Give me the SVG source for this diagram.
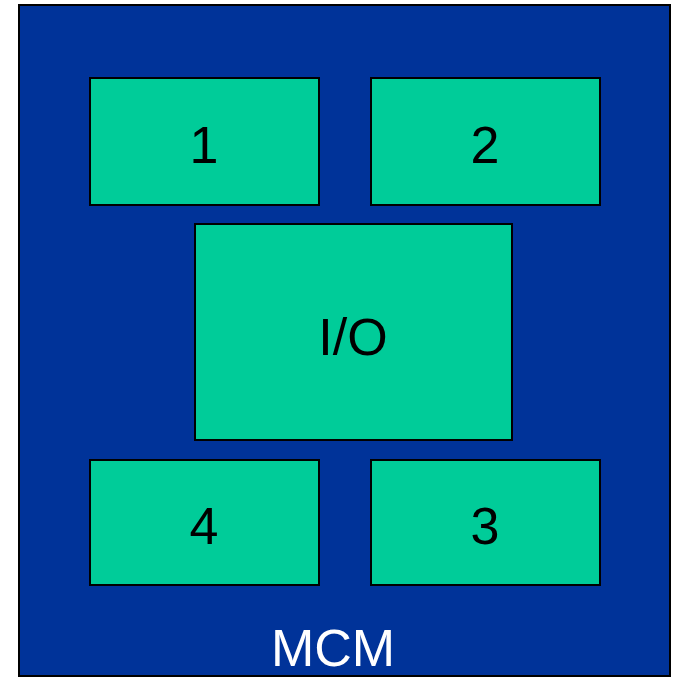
<svg xmlns="http://www.w3.org/2000/svg" width="677" height="677" viewBox="0 0 677 677">
<style>
.chip{fill:#00CC99;stroke:#000;stroke-width:2}
.lbl{font-family:"Liberation Sans",Arial,sans-serif;font-size:52px;fill:#000;text-anchor:middle}
</style>
<rect width="677" height="677" fill="#fff"/>
<g id="mcm">
<rect x="19" y="5" width="651" height="671" fill="#003399" stroke="#000" stroke-width="2"/>
<text class="lbl" x="333" y="666" style="fill:#fff">MCM</text>
</g>
<g id="n1"><rect class="chip" x="90" y="78" width="229" height="127"/><text class="lbl" x="204" y="163">1</text></g>
<g id="n2"><rect class="chip" x="371" y="78" width="229" height="127"/><text class="lbl" x="485" y="163">2</text></g>
<g id="io"><rect class="chip" x="195" y="224" width="317" height="216"/><text class="lbl" x="353" y="355">I/O</text></g>
<g id="n4"><rect class="chip" x="90" y="460" width="229" height="125"/><text class="lbl" x="204" y="544">4</text></g>
<g id="n3"><rect class="chip" x="371" y="460" width="229" height="125"/><text class="lbl" x="485" y="544">3</text></g>
<g id="connectors"></g>
</svg>
